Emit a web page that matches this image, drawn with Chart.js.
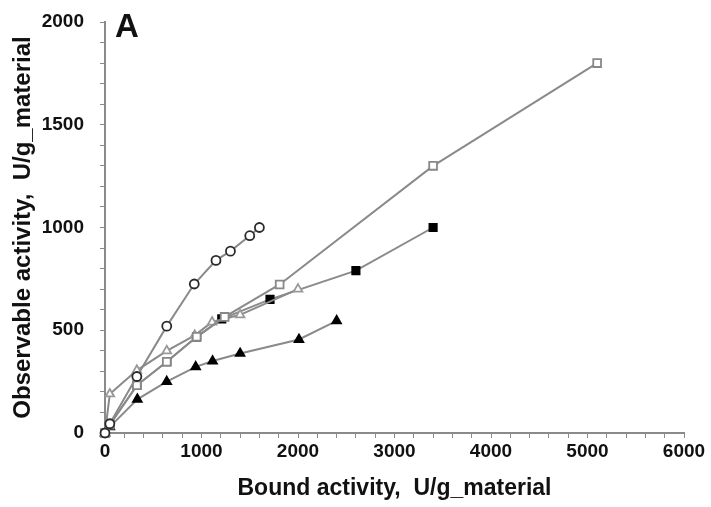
<!DOCTYPE html>
<html>
<head>
<meta charset="utf-8">
<script src="https://cdn.jsdelivr.net/npm/chart.js@4"></script>
<style>
  html, body { margin: 0; padding: 0; background: #fff; }
  #wrap { width: 711px; height: 507px; }
</style>
</head>
<body>
<div id="wrap"><canvas id="chart"></canvas></div>
<script>
// values (x = bound activity, y = observable activity)
const circleX = [0, 50, 330, 640, 925, 1150, 1300, 1500, 1600];
const circleY = [0, 45, 275, 520, 725, 840, 885, 960, 1000];

const openSquareX = [0, 50, 330, 640, 950, 1240, 1810, 3400, 5100];
const openSquareY = [0, 40, 232, 347, 468, 565, 723, 1300, 1800];

const openTriX = [0, 50, 330, 640, 930, 1110, 1400, 2000];
const openTriY = [0, 190, 305, 400, 475, 540, 575, 700];

const fillSquareX = [0, 50, 330, 640, 950, 1210, 1710, 2600, 3400];
const fillSquareY = [0, 40, 232, 347, 468, 555, 650, 790, 1000];

const fillTriX = [0, 50, 335, 640, 940, 1115, 1400, 2010, 2400];
const fillTriY = [0, 30, 164, 250, 322, 350, 387, 455, 546];

const xTicks = [0, 1000, 2000, 3000, 4000, 5000, 6000];
const yTicks = [0, 500, 1000, 1500, 2000];

const FONT = "'Liberation Sans', Arial, sans-serif";
const GRAY = "#8a8a8a";

const toPoints = (xs, ys) => xs.map((x, i) => ({ x: x, y: ys[i] }));

const series = (label, xs, ys, style, fill, border, radius) => ({
  label: label,
  data: toPoints(xs, ys),
  showLine: true,
  clip: false,
  borderColor: GRAY,
  borderWidth: 2,
  pointStyle: style,
  pointRadius: radius,
  pointBackgroundColor: fill,
  pointBorderColor: border,
  pointBorderWidth: 1.8,
});

// panel letter
const panelLabel = {
  id: "panelLabel",
  afterDraw(chart) {
    const { ctx, chartArea } = chart;
    ctx.save();
    ctx.fillStyle = "#111";
    ctx.font = "bold 33px " + FONT;
    ctx.textBaseline = "alphabetic";
    ctx.fillText("A", chartArea.left + 10, chartArea.top + 15);
    ctx.restore();
  },
};

// lower index is drawn on top
new Chart(document.getElementById("chart").getContext("2d"), {
  type: "scatter",
  data: {
    datasets: [
      series("open circles", circleX, circleY, "circle", "#fff", "#2a2a2a", 4.5),
      series("open squares", openSquareX, openSquareY, "rect", "#fff", "#888", 5.5),
      series("open triangles", openTriX, openTriY, "triangle", "#fff", "#999", 5),
      series("filled squares", fillSquareX, fillSquareY, "rect", "#000", "#000", 5.2),
      series("filled triangles", fillTriX, fillTriY, "triangle", "#000", "#000", 5),
    ],
  },
  options: {
    responsive: true,
    maintainAspectRatio: false,
    animation: false,
    layout: { padding: { top: 22, right: 27, left: 0, bottom: 0 } },
    plugins: {
      legend: { display: false },
      tooltip: { enabled: false },
    },
    scales: {
      x: {
        type: "linear",
        min: 0,
        max: 6000,
        afterFit: (scale) => { scale.height = 74; },
        border: { color: GRAY, width: 2 },
        grid: { drawOnChartArea: false, drawTicks: true, tickLength: 5, color: GRAY },
        ticks: {
          stepSize: 200,
          autoSkip: false,
          maxRotation: 0,
          padding: 2,
          color: "#111",
          font: { family: FONT, size: 19, weight: "bold" },
          callback: (v) => (xTicks.includes(v) ? v : ""),
        },
        title: {
          display: true,
          text: "Bound activity,  U/g_material",
          color: "#111",
          font: { family: FONT, size: 23, weight: "bold" },
          padding: { top: 0, bottom: 5 },
        },
      },
      y: {
        type: "linear",
        min: 0,
        max: 2000,
        afterFit: (scale) => {
          scale.width = 105;
          scale.paddingTop = 0;
          scale.paddingBottom = 0;
        },
        border: { color: GRAY, width: 2 },
        grid: { drawOnChartArea: false, drawTicks: true, tickLength: 5, color: GRAY },
        ticks: {
          stepSize: 100,
          autoSkip: false,
          padding: 16,
          color: "#111",
          font: { family: FONT, size: 19, weight: "bold" },
          callback: (v) => (yTicks.includes(v) ? v : ""),
        },
        title: {
          display: true,
          text: "Observable activity,  U/g_material",
          color: "#111",
          font: { family: FONT, size: 24, weight: "bold" },
          padding: { top: 9, bottom: 0 },
        },
      },
    },
  },
  plugins: [panelLabel],
});
</script>
</body>
</html>
